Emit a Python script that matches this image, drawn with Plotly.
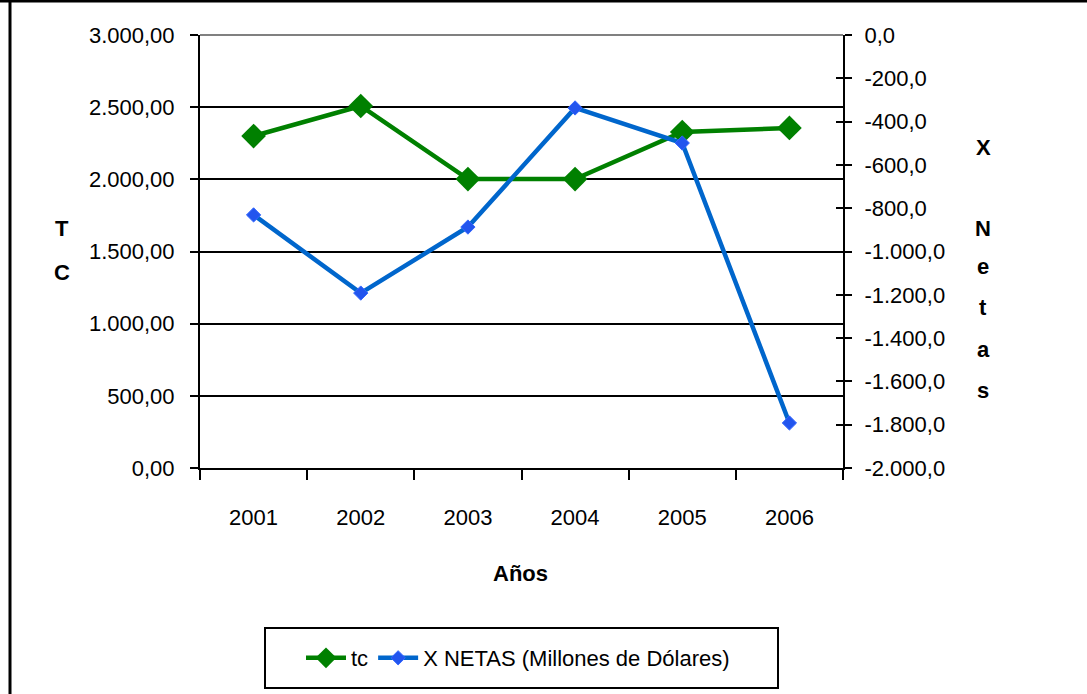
import plotly.graph_objects as go

anios = ["2001", "2002", "2003", "2004", "2005", "2006"]
tc = [2300, 2508, 2002, 2002, 2328, 2356]
x_netas = [-831, -1192, -887, -337, -499, -1792]

tc_ticks = [0, 500, 1000, 1500, 2000, 2500, 3000]
tc_labels = ["0,00", "500,00", "1.000,00", "1.500,00", "2.000,00", "2.500,00", "3.000,00"]
xn_ticks = [0, -200, -400, -600, -800, -1000, -1200, -1400, -1600, -1800, -2000]
xn_labels = ["0,0", "-200,0", "-400,0", "-600,0", "-800,0", "-1.000,0", "-1.200,0",
             "-1.400,0", "-1.600,0", "-1.800,0", "-2.000,0"]

W, H = 1087, 694
L, R, T, B = 200, 843, 35, 468
FONT = "Liberation Sans Narrow, Arial Narrow, Liberation Sans, Arial, sans-serif"


def px(x):
    return (x - L) / (R - L)


def py(y):
    return (B - y) / (B - T)


fig = go.Figure()
fig.add_trace(go.Scatter(x=anios, y=tc, name="tc", mode="lines+markers",
                         line=dict(color="#008000", width=4.5),
                         marker=dict(symbol="diamond", size=19, color="#008000")))
fig.add_trace(go.Scatter(x=anios, y=x_netas, name="X NETAS (Millones de Dólares)",
                         mode="lines+markers", yaxis="y2",
                         line=dict(color="#0066CC", width=4.5),
                         marker=dict(symbol="diamond", size=11, color="#2255EE",
                                     line=dict(color="#3366FF", width=1))))
# helper so the right-hand ticks cross the axis line
fig.add_trace(go.Scatter(x=anios, y=x_netas, yaxis="y3", mode="none",
                         showlegend=False, hoverinfo="skip"))

fig.update_layout(
    width=W, height=H,
    margin=dict(l=L, r=W - R, t=T, b=H - B),
    paper_bgcolor="white", plot_bgcolor="white",
    font=dict(family=FONT, size=22, color="black"),
    xaxis=dict(type="category", range=[-0.5, 5.5], tickson="boundaries",
               ticks="outside", ticklen=10, tickwidth=2, tickcolor="black",
               showline=True, linecolor="black", linewidth=2, showgrid=False,
               ticklabelstandoff=29),
    yaxis=dict(range=[0, 3000], tickvals=tc_ticks, ticktext=tc_labels,
               ticks="outside", ticklen=8, tickwidth=2, tickcolor="black",
               showline=True, linecolor="black", linewidth=2,
               showgrid=True, gridcolor="black", gridwidth=2, zeroline=False,
               ticklabelstandoff=11),
    yaxis2=dict(range=[-2000, 0], overlaying="y", side="right", anchor="x",
                tickvals=xn_ticks, ticktext=xn_labels,
                ticks="outside", ticklen=7, tickwidth=2, tickcolor="black",
                showline=True, linecolor="black", linewidth=2,
                showgrid=False, zeroline=False, ticklabelstandoff=8),
    yaxis3=dict(range=[-2000, 0], overlaying="y", side="right", anchor="x",
                tickvals=xn_ticks, ticks="inside", ticklen=7, tickwidth=2,
                tickcolor="black", showticklabels=False, showline=False,
                showgrid=False, zeroline=False),
    legend=dict(orientation="h", x=px(518), xanchor="center", y=py(658), yanchor="middle",
                borderwidth=0, bgcolor="rgba(0,0,0,0)",
                font=dict(size=22), itemwidth=40),
    showlegend=True,
)

# plot-area top border (grey), legend box and outer frame
fig.add_shape(type="line", xref="paper", yref="paper", x0=0, x1=1, y0=1, y1=1,
              line=dict(color="#808080", width=2), layer="above")
fig.add_shape(type="rect", xref="paper", yref="paper", x0=px(265), x1=px(778),
              y0=py(628), y1=py(688), line=dict(color="black", width=2))
fig.add_shape(type="line", xref="paper", yref="paper", x0=px(0), x1=px(W), y0=py(1), y1=py(1),
              line=dict(color="black", width=3))
fig.add_shape(type="line", xref="paper", yref="paper", x0=px(10), x1=px(10), y0=py(0), y1=py(H),
              line=dict(color="black", width=3))

bold = dict(family=FONT, size=22, color="black", weight="bold")
notes = [("T", 62, 228), ("C", 62, 272), ("Años", 520, 573),
         ("X", 983, 147), ("N", 983, 228), ("e", 983, 266), ("t", 983, 307),
         ("a", 983, 349), ("s", 983, 390)]
for txt, x, y in notes:
    fig.add_annotation(text="<b>" + txt + "</b>", xref="paper", yref="paper",
                       x=px(x), y=py(y), showarrow=False, font=bold,
                       xanchor="center", yanchor="middle")

fig.write_html("out.html", config={"displayModeBar": False},
               post_script="document.body.style.margin='0';")
